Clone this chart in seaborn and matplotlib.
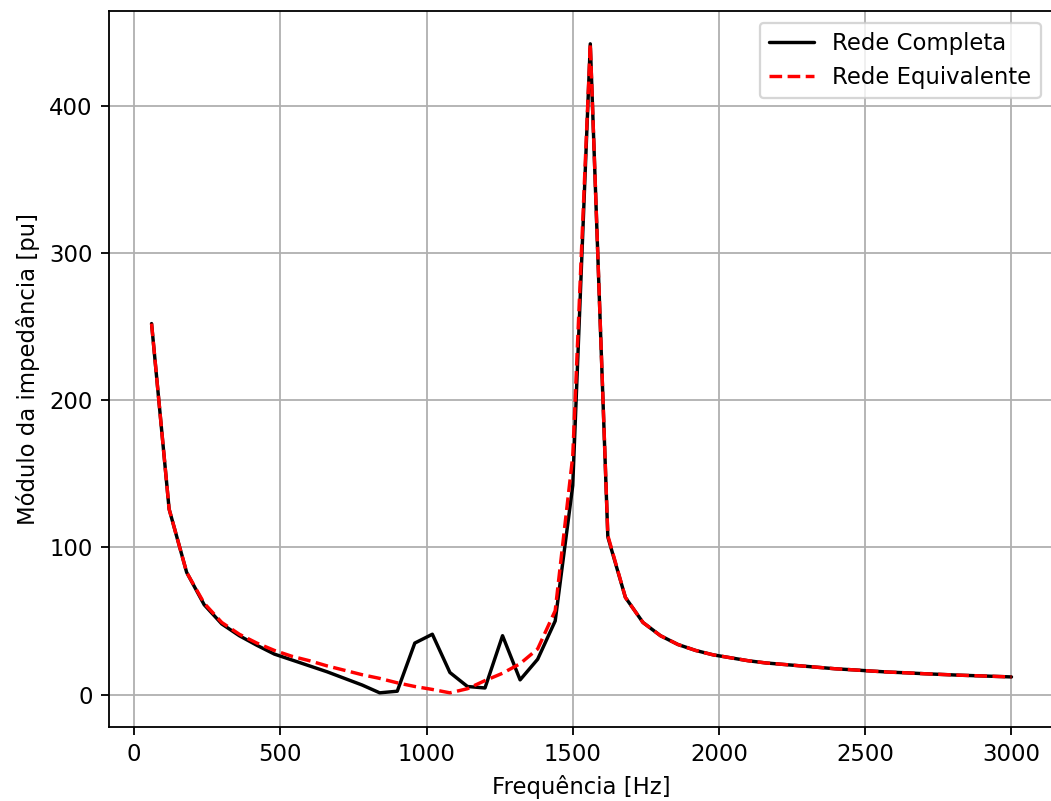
import numpy as np
import pandas as pd
import matplotlib
matplotlib.use("Agg")
import matplotlib.pyplot as plt
import seaborn as sns

freq = [60, 120, 180, 240, 300, 360, 420, 480, 540, 600, 660, 720, 780, 840, 900,
        960, 1020, 1080, 1140, 1200, 1260, 1320, 1380, 1440, 1500, 1560, 1620, 1680,
        1740, 1800, 1860, 1920, 1980, 2040, 2100, 2160, 2220, 2280, 2340, 2400, 2460,
        2520, 2580, 2640, 2700, 2760, 2820, 2880, 2940, 3000]

completa = [252, 126, 83, 61, 48, 40, 33.5, 27.5, 23.5, 19.5, 15.5, 11, 6.5, 1.2, 2.3,
            35, 41, 15, 5.5, 4.5, 40, 10, 24, 50, 142, 442, 107, 66,
            49, 40, 34, 30, 27, 25, 23, 21.5, 20.5, 19.5, 18.5, 17.5, 16.8,
            16, 15.3, 14.8, 14.2, 13.7, 13.2, 12.8, 12.4, 12]

equivalente = [252, 126, 83, 62, 49, 41, 35, 30, 26, 23, 19.5, 16.5, 13.5, 11, 8,
               5.5, 3.5, 1.2, 4, 9.5, 14.5, 21, 31, 57, 162, 442, 108, 66,
               49, 40, 34, 30, 27, 25, 23, 21.5, 20.5, 19.5, 18.5, 17.5, 16.8,
               16, 15.3, 14.8, 14.2, 13.7, 13.2, 12.8, 12.4, 12]

df = pd.DataFrame({"freq": freq, "completa": completa, "equivalente": equivalente})

sns.set_style("ticks")
plt.rcParams['font.family'] = ['DejaVu Sans']
plt.rcParams['text.color'] = 'black'
plt.rcParams['axes.labelcolor'] = 'black'
plt.rcParams['xtick.color'] = 'black'
plt.rcParams['ytick.color'] = 'black'

fig = plt.figure(figsize=(1051 / 164, 801 / 164), dpi=164)
ax = fig.add_axes([0.1033, 0.0924, 0.9000, 0.8933])

sns.lineplot(data=df, x="freq", y="completa", ax=ax, color="black", linewidth=1.5,
             label="Rede Completa")
sns.lineplot(data=df, x="freq", y="equivalente", ax=ax, color="red", linewidth=1.5,
             linestyle="--", label="Rede Equivalente")

ax.grid(True, color="#b0b0b0", linewidth=0.8)
ax.set_axisbelow(True)
ax.set_xlabel("Frequência [Hz]", fontsize=10)
ax.set_ylabel("Módulo da impedância [pu]", fontsize=10)
ax.tick_params(labelsize=10, direction="out", length=3.5, width=0.8, color="black",
               labelcolor="black")
for s in ax.spines.values():
    s.set_color("black")
    s.set_linewidth(0.8)
ax.set_xlim(-87, 3147)
ax.set_ylim(-22, 464)
ax.set_xticks([0, 500, 1000, 1500, 2000, 2500, 3000])
ax.set_yticks([0, 100, 200, 300, 400])
leg = ax.legend(loc="upper right", bbox_to_anchor=(0.9975, 1.0), fontsize=10,
                frameon=True, fancybox=True, framealpha=0.8, edgecolor="#cccccc")
for t in leg.get_texts():
    t.set_color("black")

fig.savefig("out.png", dpi=164)
